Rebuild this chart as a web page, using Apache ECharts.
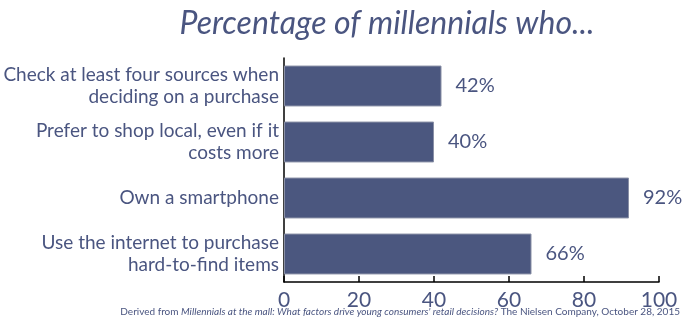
<!DOCTYPE html>
<html><head><meta charset="utf-8">
<script src="https://cdn.jsdelivr.net/npm/echarts@6/dist/echarts.min.js"></script>
<style>html,body{margin:0;padding:0;background:#fff}#c{width:684px;height:322px}</style>
</head><body><div id="c"></div>
<script>
const categories = [
  "Check at least four sources when\ndeciding on a purchase",
  "Prefer to shop local, even if it\ncosts more",
  "Own a smartphone",
  "Use the internet to purchase\nhard-to-find items"
];
const values = [42, 40, 92, 66];
const xTicks = [0, 20, 40, 60, 80, 100];
const titleText = "Percentage of millennials who...";
const sourceParts = ["Derived from ", "Millennials at the mall: What factors drive young consumers' retail decisions?", " The Nielsen Company, October 28, 2015"];

const C = '#4a5580';
const FONT = 'Lato';
const chart = echarts.init(document.getElementById('c'), null, {renderer: 'canvas'});
chart.setOption({
  animation: false,
  textStyle: {fontFamily: FONT},
  title: {
    text: titleText, left: 382, top: 3, textAlign: 'center',
    textStyle: {fontFamily: FONT, fontStyle: 'italic', fontWeight: 'normal', fontSize: 32, color: C}
  },
  graphic: [{
    type: 'text', right: 4, top: 307,
    style: {
      text: '{n|' + sourceParts[0] + '}{i|' + sourceParts[1] + '}{n|' + sourceParts[2] + '}',
      rich: {
        n: {fontFamily: FONT, fontSize: 10, fill: C, color: C},
        i: {fontFamily: FONT, fontSize: 10, fontStyle: 'italic', fill: C, color: C}
      }
    }
  }],
  grid: {left: 284, right: 25, top: 58, bottom: 40, containLabel: false},
  xAxis: {
    type: 'value', min: xTicks[0], max: xTicks[xTicks.length - 1], interval: 20,
    axisLine: {show: true, lineStyle: {color: '#000', width: 1.5}},
    axisTick: {show: true, inside: true, length: 6, lineStyle: {color: '#000', width: 1.5}},
    splitLine: {show: false},
    axisLabel: {color: C, fontSize: 21, margin: 8, fontFamily: FONT}
  },
  yAxis: {
    type: 'category', data: categories, inverse: true,
    axisLine: {show: true, lineStyle: {color: '#000', width: 1.5}},
    axisTick: {show: false},
    axisLabel: {color: C, fontSize: 19, lineHeight: 22, margin: 5, align: 'right', fontFamily: FONT}
  },
  series: [{
    type: 'bar', data: values, barCategoryGap: '27%',
    itemStyle: {color: '#4b577f', borderColor: '#8a90a6', borderWidth: 1},
    label: {show: true, position: 'right', distance: 14, formatter: '{c}%', color: C, fontSize: 20, fontFamily: FONT}
  }]
});
</script></body></html>
